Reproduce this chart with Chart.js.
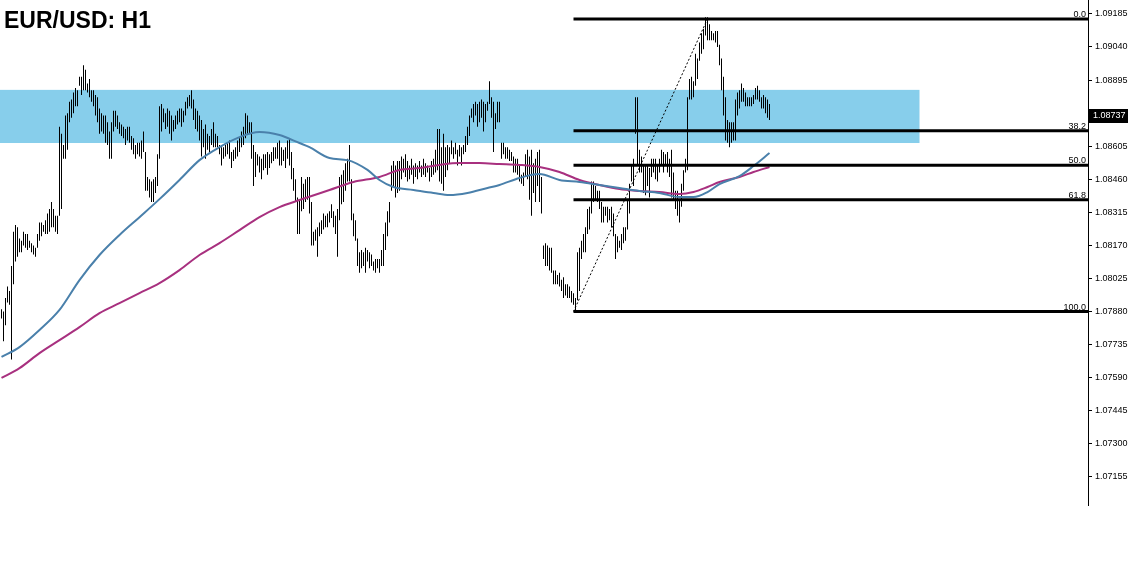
<!DOCTYPE html>
<html>
<head>
<meta charset="utf-8">
<script src="https://cdn.jsdelivr.net/npm/chart.js@4.4.1/dist/chart.umd.min.js"></script>
<style>
  html, body { margin: 0; padding: 0; background: #fff; }
  #wrap { width: 1128px; height: 566px; }
</style>
</head>
<body>
<div id="wrap"><canvas id="chart" width="1128" height="566"></canvas></div>
<script>
const title = "EUR/USD: H1";

// price axis labels
const yTicks = [1.09185, 1.09040, 1.08895, 1.08750, 1.08605, 1.08460, 1.08315, 1.08170,
  1.08025, 1.07880, 1.07735, 1.07590, 1.07445, 1.07300, 1.07155];

// H1 bars, high / low (oldest first)
const barHigh = [
  1.0789,1.0788,1.0794,1.0799,1.0797,1.0808,1.0823,1.0826,1.0825,1.0820,
  1.0819,1.0823,1.0822,1.0822,1.0819,1.0818,1.0817,1.0816,1.0822,1.0827,
  1.0827,1.0826,1.0828,1.0831,1.0833,1.0836,1.0833,1.0830,1.0830,1.0869,
  1.0866,1.0861,1.0874,1.0875,1.0880,1.0881,1.0884,1.0886,1.0885,1.0891,
  1.0891,1.0896,1.0894,1.0888,1.0890,1.0885,1.0885,1.0883,1.0882,1.0877,
  1.0875,1.0874,1.0874,1.0871,1.0867,1.0871,1.0876,1.0876,1.0874,1.0871,
  1.0870,1.0869,1.0868,1.0869,1.0869,1.0865,1.0864,1.0861,1.0862,1.0862,
  1.0863,1.0867,1.0858,1.0847,1.0846,1.0845,1.0846,1.0847,1.0857,1.0878,
  1.0879,1.0877,1.0875,1.0877,1.0876,1.0874,1.0872,1.0874,1.0876,1.0877,
  1.0877,1.0876,1.0880,1.0882,1.0883,1.0885,1.0881,1.0877,1.0876,1.0874,
  1.0872,1.0868,1.0870,1.0866,1.0865,1.0868,1.0871,1.0866,1.0865,1.0861,
  1.0860,1.0860,1.0861,1.0862,1.0863,1.0858,1.0859,1.0860,1.0863,1.0864,
  1.0867,1.0869,1.0875,1.0874,1.0871,1.0871,1.0861,1.0858,1.0857,1.0856,
  1.0855,1.0857,1.0857,1.0858,1.0857,1.0858,1.0860,1.0860,1.0862,1.0863,
  1.0860,1.0859,1.0860,1.0863,1.0864,1.0858,1.0851,1.0846,1.0838,1.0837,
  1.0847,1.0844,1.0846,1.0847,1.0847,1.0836,1.0823,1.0824,1.0825,1.0827,
  1.0828,1.0831,1.0830,1.0831,1.0832,1.0835,1.0832,1.0830,1.0833,1.0847,
  1.0848,1.0850,1.0853,1.0855,1.0861,1.0846,1.0831,1.0828,1.0820,1.0814,
  1.0815,1.0814,1.0816,1.0815,1.0814,1.0813,1.0810,1.0811,1.0811,1.0811,
  1.0815,1.0822,1.0827,1.0832,1.0836,1.0852,1.0854,1.0852,1.0854,1.0854,
  1.0856,1.0855,1.0857,1.0854,1.0852,1.0855,1.0852,1.0853,1.0852,1.0854,
  1.0852,1.0855,1.0853,1.0852,1.0851,1.0854,1.0855,1.0859,1.0868,1.0868,
  1.0860,1.0866,1.0860,1.0861,1.0860,1.0863,1.0860,1.0862,1.0859,1.0861,
  1.0860,1.0861,1.0865,1.0869,1.0874,1.0877,1.0879,1.0880,1.0879,1.0880,
  1.0881,1.0880,1.0879,1.0880,1.0889,1.0882,1.0880,1.0875,1.0880,1.0880,
  1.0862,1.0862,1.0860,1.0860,1.0859,1.0858,1.0856,1.0855,1.0855,1.0852,
  1.0848,1.0849,1.0857,1.0859,1.0856,1.0859,1.0853,1.0855,1.0858,1.0859,
  1.0847,1.0817,1.0818,1.0817,1.0816,1.0816,1.0806,1.0806,1.0804,1.0805,
  1.0802,1.0803,1.0800,1.0800,1.0799,1.0797,1.0796,1.0794,1.0814,1.0816,
  1.0819,1.0822,1.0825,1.0833,1.0834,1.0845,1.0845,1.0843,1.0841,1.0841,
  1.0836,1.0834,1.0834,1.0834,1.0833,1.0834,1.0831,1.0822,1.0821,1.0819,
  1.0822,1.0825,1.0825,1.0837,1.0844,1.0852,1.0855,1.0882,1.0882,1.0859,
  1.0856,1.0852,1.0852,1.0852,1.0851,1.0855,1.0855,1.0855,1.0852,1.0855,
  1.0859,1.0858,1.0857,1.0858,1.0855,1.0859,1.0849,1.0841,1.0841,1.0837,
  1.0844,1.0850,1.0855,1.0882,1.0890,1.0891,1.0889,1.0901,1.0899,1.0906,
  1.0910,1.0912,1.0917,1.0917,1.0914,1.0911,1.0910,1.0911,1.0911,1.0905,
  1.0899,1.0891,1.0882,1.0872,1.0871,1.0871,1.0871,1.0881,1.0884,1.0885,
  1.0888,1.0886,1.0884,1.0882,1.0882,1.0882,1.0883,1.0886,1.0887,1.0885,
  1.0882,1.0883,1.0882,1.0881,1.0879
];
const barLow = [
  1.0785,1.0775,1.0782,1.0792,1.0791,1.0767,1.0800,1.0810,1.0812,1.0814,
  1.0814,1.0817,1.0816,1.0815,1.0816,1.0814,1.0813,1.0812,1.0816,1.0819,
  1.0821,1.0823,1.0822,1.0822,1.0823,1.0825,1.0825,1.0823,1.0822,1.0830,
  1.0833,1.0855,1.0855,1.0859,1.0871,1.0873,1.0875,1.0878,1.0878,1.0887,
  1.0883,1.0885,1.0885,1.0884,1.0882,1.0880,1.0878,1.0874,1.0871,1.0866,
  1.0867,1.0866,1.0862,1.0861,1.0855,1.0855,1.0867,1.0869,1.0868,1.0866,
  1.0865,1.0864,1.0861,1.0863,1.0862,1.0859,1.0857,1.0855,1.0857,1.0856,
  1.0855,1.0858,1.0841,1.0841,1.0838,1.0836,1.0836,1.0840,1.0843,1.0855,
  1.0867,1.0871,1.0868,1.0869,1.0866,1.0863,1.0867,1.0868,1.0870,1.0871,
  1.0869,1.0871,1.0874,1.0877,1.0878,1.0877,1.0872,1.0868,1.0867,1.0863,
  1.0856,1.0860,1.0855,1.0859,1.0858,1.0861,1.0860,1.0860,1.0860,1.0857,
  1.0852,1.0855,1.0856,1.0857,1.0855,1.0851,1.0854,1.0855,1.0856,1.0858,
  1.0860,1.0861,1.0864,1.0866,1.0866,1.0855,1.0843,1.0847,1.0852,1.0849,
  1.0846,1.0850,1.0851,1.0848,1.0851,1.0853,1.0854,1.0855,1.0855,1.0852,
  1.0852,1.0854,1.0851,1.0855,1.0852,1.0846,1.0841,1.0836,1.0822,1.0822,
  1.0832,1.0833,1.0836,1.0837,1.0831,1.0817,1.0817,1.0819,1.0812,1.0821,
  1.0822,1.0824,1.0825,1.0825,1.0827,1.0829,1.0825,1.0822,1.0812,1.0828,
  1.0835,1.0836,1.0841,1.0845,1.0845,1.0828,1.0821,1.0819,1.0808,1.0805,
  1.0807,1.0808,1.0805,1.0810,1.0807,1.0808,1.0806,1.0805,1.0807,1.0805,
  1.0808,1.0808,1.0815,1.0821,1.0827,1.0841,1.0843,1.0838,1.0840,1.0841,
  1.0846,1.0849,1.0847,1.0845,1.0846,1.0848,1.0844,1.0847,1.0846,1.0849,
  1.0847,1.0848,1.0847,1.0849,1.0845,1.0847,1.0848,1.0849,1.0850,1.0845,
  1.0844,1.0841,1.0847,1.0850,1.0853,1.0857,1.0855,1.0857,1.0852,1.0856,
  1.0852,1.0857,1.0858,1.0861,1.0865,1.0873,1.0871,1.0874,1.0869,1.0871,
  1.0873,1.0867,1.0871,1.0876,1.0879,1.0873,1.0858,1.0868,1.0871,1.0871,
  1.0855,1.0857,1.0855,1.0855,1.0854,1.0854,1.0849,1.0849,1.0848,1.0845,
  1.0844,1.0843,1.0847,1.0846,1.0837,1.0830,1.0840,1.0836,1.0843,1.0836,
  1.0831,1.0811,1.0808,1.0808,1.0806,1.0805,1.0800,1.0800,1.0800,1.0799,
  1.0797,1.0794,1.0795,1.0794,1.0794,1.0792,1.0791,1.0788,1.0793,1.0797,
  1.0811,1.0814,1.0814,1.0822,1.0824,1.0831,1.0836,1.0837,1.0836,1.0833,
  1.0827,1.0827,1.0830,1.0827,1.0828,1.0825,1.0821,1.0811,1.0814,1.0816,
  1.0815,1.0818,1.0819,1.0824,1.0831,1.0845,1.0843,1.0866,1.0852,1.0849,
  1.0849,1.0840,1.0839,1.0843,1.0838,1.0847,1.0849,1.0846,1.0845,1.0849,
  1.0852,1.0849,1.0852,1.0849,1.0847,1.0838,1.0837,1.0833,1.0830,1.0827,
  1.0834,1.0841,1.0849,1.0850,1.0881,1.0881,1.0882,1.0887,1.0890,1.0898,
  1.0901,1.0903,1.0909,1.0907,1.0907,1.0907,1.0907,1.0906,1.0904,1.0896,
  1.0885,1.0874,1.0863,1.0862,1.0860,1.0862,1.0863,1.0863,1.0874,1.0877,
  1.0880,1.0880,1.0878,1.0878,1.0878,1.0878,1.0879,1.0881,1.0881,1.0880,
  1.0877,1.0877,1.0875,1.0873,1.0872
];

// moving averages, read at some bar indices
const maBlueIdx = [0,9,19,29,39,49,59,69,79,89,99,109,119,129,139,149,154,164,173,183,
  189,196,206,216,224,233,243,249,259,269,279,289,299,309,319,329,339,346,353,359,369,376,384];
const maBlue = [1.07681,1.07724,1.07799,1.07887,1.08018,1.08128,1.08216,1.08294,1.08373,1.08457,
  1.08544,1.08601,1.08645,1.08667,1.08654,1.08619,1.08601,1.08553,1.08544,1.08501,
  1.08457,1.08426,1.08413,1.08400,1.08391,1.08400,1.08422,1.08435,1.08466,1.08483,
  1.08457,1.08448,1.08435,1.08422,1.08409,1.08400,1.08382,1.08382,1.08404,1.08439,
  1.08474,1.08518,1.08575];
const maPinkIdx = [0,9,19,29,39,49,59,69,79,89,99,109,119,129,139,149,164,176,189,199,
  209,219,229,239,249,259,269,279,289,299,309,319,329,339,346,353,359,369,376,384];
const maPink = [1.07589,1.07632,1.07698,1.07755,1.07812,1.07873,1.07917,1.07961,1.08005,1.08062,
  1.08128,1.08180,1.08237,1.08294,1.08338,1.08369,1.08413,1.08448,1.08470,1.08501,
  1.08509,1.08523,1.08531,1.08531,1.08527,1.08523,1.08514,1.08492,1.08457,1.08435,
  1.08417,1.08409,1.08404,1.08395,1.08404,1.08426,1.08448,1.08470,1.08492,1.08514];

// fibonacci from swing low to swing high
const fibLabels = ["0.0", "38.2", "50.0", "61.8", "100.0"];
const fibPrices = [1.09163, 1.08673, 1.08522, 1.08370, 1.07880];
const swingIdx = [286, 353];
const swingPrice = [1.07880, 1.09163];

// resistance zone
const zoneTop = 1.08852, zoneBottom = 1.08619, zoneEndIdx = 459;
const lastPrice = 1.08737;

const xMin = -0.75, xMax = 543.25;

const zonePlugin = {
  id: 'zone',
  beforeDatasetsDraw(chart) {
    const { ctx, scales: { x, y } } = chart;
    const x0 = x.getPixelForValue(xMin), x1 = x.getPixelForValue(zoneEndIdx);
    const y0 = y.getPixelForValue(zoneTop), y1 = y.getPixelForValue(zoneBottom);
    ctx.save();
    ctx.fillStyle = '#87ceeb';
    ctx.fillRect(x0, y0, x1 - x0, y1 - y0);
    ctx.restore();
  }
};

const textPlugin = {
  id: 'texts',
  afterDraw(chart) {
    const { ctx, scales: { y }, chartArea } = chart;
    ctx.save();
    // fib level labels
    ctx.fillStyle = '#000';
    ctx.font = "9px 'Liberation Sans'";
    ctx.textAlign = 'right';
    ctx.textBaseline = 'alphabetic';
    fibLabels.forEach((t, i) => {
      ctx.fillText(t, chartArea.right - 2, Math.round(y.getPixelForValue(fibPrices[i])) - 2);
    });
    // last price box
    const py = Math.round(y.getPixelForValue(lastPrice));
    ctx.fillStyle = '#000';
    ctx.fillRect(chartArea.right + 1, py - 7, 40, 14);
    ctx.fillStyle = '#fff';
    ctx.textAlign = 'left';
    ctx.textBaseline = 'middle';
    ctx.font = "9px 'Liberation Sans'";
    ctx.fillText(lastPrice.toFixed(5), chartArea.right + 5, py);
    // title
    ctx.fillStyle = '#000';
    ctx.font = "bold 23px 'Liberation Sans'";
    ctx.textBaseline = 'alphabetic';
    ctx.fillText(title, 4, 28);
    ctx.restore();
  }
};

const fibSets = fibPrices.map((p, i) => ({
  type: 'line',
  label: 'fib ' + fibLabels[i],
  data: [{ x: swingIdx[0], y: p }, { x: xMax, y: p }],
  borderColor: '#000',
  borderWidth: 3,
  pointRadius: 0,
  order: 0
}));

new Chart(document.getElementById('chart'), {
  type: 'bar',
  data: {
    datasets: [
      ...fibSets,
      {
        type: 'line',
        label: 'MA fast',
        data: maBlueIdx.map((ix, i) => ({ x: ix, y: maBlue[i] })),
        borderColor: '#4a80ab',
        borderWidth: 2,
        pointRadius: 0,
        cubicInterpolationMode: 'monotone',
        order: 1
      },
      {
        type: 'line',
        label: 'MA slow',
        data: maPinkIdx.map((ix, i) => ({ x: ix, y: maPink[i] })),
        borderColor: '#a8307f',
        borderWidth: 2,
        pointRadius: 0,
        cubicInterpolationMode: 'monotone',
        order: 1
      },
      {
        type: 'line',
        label: 'swing',
        data: swingIdx.map((ix, i) => ({ x: ix, y: swingPrice[i] })),
        borderColor: '#000',
        borderWidth: 1,
        borderDash: [2, 2],
        pointRadius: 0,
        order: 2
      },
      {
        type: 'bar',
        label: 'EURUSD',
        data: barHigh.map((h, i) => ({ x: i, y: [barLow[i], h] })),
        backgroundColor: '#000',
        borderWidth: 0,
        barThickness: 1,
        inflateAmount: 0,
        grouped: false,
        order: 3
      }
    ]
  },
  options: {
    responsive: false,
    animation: false,
    devicePixelRatio: 1,
    events: [],
    layout: { padding: { left: 0, right: 0, top: 0, bottom: 61 } },
    plugins: { legend: { display: false }, tooltip: { enabled: false } },
    scales: {
      x: {
        type: 'linear',
        min: xMin,
        max: xMax,
        offset: false,
        display: false
      },
      y: {
        position: 'right',
        min: 1.07032,
        max: 1.09246,
        afterBuildTicks: s => { s.ticks = yTicks.map(v => ({ value: v })); },
        afterFit: s => { s.width = 40; s.paddingTop = 0; s.paddingBottom = 0; },
        ticks: {
          autoSkip: false,
          color: '#000',
          padding: 3,
          font: { family: 'Liberation Sans', size: 9 },
          callback: v => Number(v).toFixed(5)
        },
        grid: {
          display: true,
          drawOnChartArea: false,
          drawTicks: true,
          tickLength: 4,
          color: '#000'
        },
        border: { display: true, color: '#000', width: 1 }
      }
    }
  },
  plugins: [zonePlugin, textPlugin]
});
</script>
</body>
</html>
